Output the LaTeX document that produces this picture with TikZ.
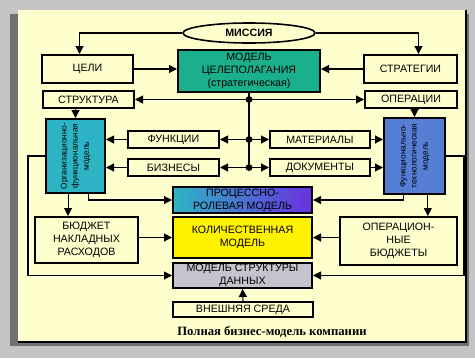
\documentclass[tikz,border=0pt]{standalone}
\usepackage{fontspec}
\setmainfont{Liberation Sans}
\newfontfamily\captionserif{Liberation Serif}
\usepackage{graphicx}
\usepackage{tikz}
\usetikzlibrary{arrows.meta,calc,shapes.geometric}
\definecolor{ink}{RGB}{0,0,0}
\definecolor{framegray}{RGB}{196,196,196}
\definecolor{shadegray}{RGB}{112,112,112}
\definecolor{panelfill}{RGB}{255,255,206}
\definecolor{tealfill}{RGB}{26,176,140}
\definecolor{cyanfill}{RGB}{45,180,196}
\definecolor{bluefill}{RGB}{86,126,212}
\definecolor{violetfill}{RGB}{104,48,222}
\definecolor{yellowfill}{RGB}{255,242,0}
\definecolor{grayfill}{RGB}{196,196,206}
\tikzset{
  flow/.style={-{Triangle[length=6pt,width=6pt]},line width=0.8pt,draw=ink},
  wire/.style={line width=0.8pt,draw=ink},
  plain/.style={draw=ink,line width=1.5pt,fill=panelfill,align=center,inner sep=0pt,font=\fontsize{8}{9.8}\selectfont},
  model/.style={plain,fill=#1},
  turned/.style={plain,fill=#1,font=\fontsize{6.2}{8.4}\selectfont},
  oval/.style={ellipse,draw=ink,line width=1.2pt,fill=panelfill,inner sep=0pt,font=\bfseries\fontsize{8}{10}\selectfont}
}

\begin{document}
\begin{tikzpicture}[x=0.75pt,y=-0.75pt]
  \useasboundingbox (0,0) rectangle (475,358);
  % frame and panel
  \fill[framegray] (0,0) rectangle (475,358);
  \fill[shadegray] (10,14) rectangle (469,346);
  \fill[panelfill] (18,10) rectangle (466,342);
  \draw[line width=1.5pt,ink] (18,342) -- (466,342) -- (466,10);

  \node[oval,minimum width=99pt,minimum height=15pt] (mission) at (249,33) {МИССИЯ};
  \node[plain,minimum width=68.25pt,minimum height=21pt] (goals) at (87.5,69) {ЦЕЛИ};
  \node[model=tealfill,minimum width=106.5pt,minimum height=31.5pt] (target) at (249,71) {МОДЕЛЬ\\ЦЕЛЕПОЛАГАНИЯ\\(стратегическая)};
  \node[plain,minimum width=69.75pt,minimum height=21pt] (strategy) at (410.5,69) {СТРАТЕГИИ};
  \node[plain,minimum width=68.25pt,minimum height=12.75pt] (structure) at (88.5,99.5) {СТРУКТУРА};
  \node[plain,minimum width=69pt,minimum height=12.75pt] (operations) at (411,99.5) {ОПЕРАЦИИ};
  \node[plain,minimum width=68.25pt,minimum height=12.75pt] (functions) at (173.5,139.5) {ФУНКЦИИ};
  \node[plain,minimum width=68.25pt,minimum height=12.75pt] (businesses) at (173.5,167.5) {БИЗНЕСЫ};
  \node[plain,minimum width=75pt,minimum height=12.75pt] (materials) at (320,139.5) {МАТЕРИАЛЫ};
  \node[plain,minimum width=75pt,minimum height=12.75pt] (documents) at (320,167.5) {ДОКУМЕНТЫ};
  \node[turned=cyanfill,minimum width=44.25pt,minimum height=55.5pt] (orgmodel) at (75.5,156)
    {\rotatebox{90}{\begin{tabular}{@{}c@{}}Организационно-\\функциональная\\модель\end{tabular}}};
  \node[turned=bluefill,minimum width=45.75pt,minimum height=57pt] (techmodel) at (414.5,156)
    {\rotatebox{90}{\begin{tabular}{@{}c@{}}Функционально-\\технологическая\\модель\end{tabular}}};
  \node[plain,left color=cyanfill,right color=violetfill,minimum width=104.25pt,minimum height=19.5pt] (process) at (242.5,200) {ПРОЦЕССНО-\\РОЛЕВАЯ МОДЕЛЬ};
  \node[model=yellowfill,minimum width=104.25pt,minimum height=30.75pt] (quantity) at (242.5,237.5) {КОЛИЧЕСТВЕННАЯ\\МОДЕЛЬ};
  \node[model=grayfill,minimum width=104.25pt,minimum height=18.75pt] (datamodel) at (242.5,275.5) {МОДЕЛЬ СТРУКТУРЫ\\ДАННЫХ};
  \node[plain,minimum width=105pt,minimum height=11.25pt] (environment) at (243,309.5) {ВНЕШНЯЯ СРЕДА};
  \node[plain,minimum width=77.25pt,minimum height=34.5pt] (overhead) at (86.5,240) {БЮДЖЕТ\\НАКЛАДНЫХ\\РАСХОДОВ};
  \node[plain,minimum width=87.75pt,minimum height=36pt] (opbudgets) at (398.5,241) {ОПЕРАЦИОН-\\НЫЕ\\БЮДЖЕТЫ};
  \node[font=\captionserif\bfseries\fontsize{9.5}{11}\selectfont] (caption) at (272,332) {Полная бизнес-модель компании};

  % hub of the goal model
  \coordinate (hubA) at (target.south |- structure.east);
  \coordinate (hubB) at (target.south |- functions.east);
  \coordinate (hubC) at (target.south |- businesses.east);
  \draw[wire] (target.south) -- (hubC);
  \draw[flow] (hubA) -- (structure.east); \draw[flow] (hubA) -- (operations.west);
  \draw[flow] (hubB) -- (functions.east); \draw[flow] (hubB) -- (materials.west);
  \draw[flow] (hubC) -- (businesses.east); \draw[flow] (hubC) -- (documents.west);
  \foreach \hub in {hubA,hubB,hubC} \fill[ink] (\hub) circle (2.6pt);

  \draw[flow] (mission.west) -| ([xshift=-6pt]goals.north);
  \draw[flow] (mission.east) -| ([xshift=6pt]strategy.north);
  \draw[flow] (goals.east) -- (goals.east -| target.west);
  \draw[flow] (strategy.west) -- (strategy.west -| target.east);
  \draw[flow] (functions.west) -- (functions.west -| orgmodel.east);
  \draw[flow] (businesses.west) -- (businesses.west -| orgmodel.east);
  \draw[flow] (materials.east) -- (materials.east -| techmodel.west);
  \draw[flow] (documents.east) -- (documents.east -| techmodel.west);
  \draw[flow] (orgmodel.north |- structure.south) -- (orgmodel.north);
  \draw[flow] (techmodel.north |- operations.south) -- (techmodel.north);
  \draw[flow] ([xshift=9.4pt]orgmodel.south) |- (process.west);
  \draw[flow] ([xshift=-5.6pt]orgmodel.south) -- ([xshift=-5.6pt]orgmodel.south |- overhead.north);
  \draw[flow] (orgmodel.west) -- ++(-17,0) |- (datamodel.west);
  \draw[flow] ([xshift=-8.6pt]techmodel.south) |- (process.east);
  \draw[flow] ([xshift=10pt]techmodel.south) -- ([xshift=10pt]techmodel.south |- opbudgets.north);
  \draw[flow] (techmodel.east) -- ++(18,0) |- (datamodel.east);
  \draw[flow] (overhead.east |- quantity.west) -- (quantity.west);
  \draw[flow] (opbudgets.west |- quantity.east) -- (quantity.east);
  \draw[flow] (environment.north) -- (datamodel.south);
\end{tikzpicture}
\end{document}
